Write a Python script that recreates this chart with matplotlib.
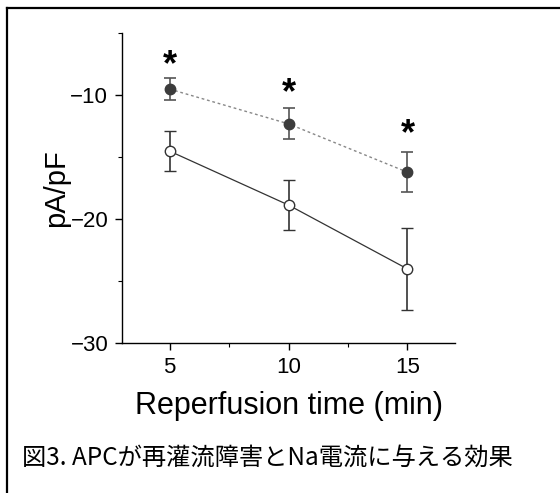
import matplotlib.pyplot as plt
from matplotlib.lines import Line2D
from matplotlib.ticker import MultipleLocator

plt.rcParams["font.family"] = ["Liberation Sans", "DejaVu Sans"]

# data
times = [5, 10, 15]
apc_mean = [-9.5, -12.3, -16.2]
apc_err = [0.9, 1.25, 1.6]
ctrl_mean = [-14.5, -18.85, -24.0]
ctrl_err = [1.6, 2.0, 3.3]
star_y = [-7.2, -9.4, -12.75]
caption = "図3. APCが再灌流障害とNa電流に与える効果"

fig = plt.figure(figsize=(5.6, 4.93), dpi=100)
ax = fig.add_axes([0.218, 0.3036, 0.5945, 0.6288])

ax.errorbar(times, ctrl_mean, yerr=ctrl_err, fmt="-o", color="#333333", lw=0.9,
            ms=7.5, mfc="white", mec="#333333", mew=1.0, ecolor="#333333",
            elinewidth=1.2, capsize=4, capthick=1.2, zorder=3)
ax.errorbar(times, apc_mean, yerr=apc_err, fmt="o", color="#3c3c3c", ms=7.5,
            mfc="#3c3c3c", mec="#3c3c3c", ecolor="#555555", elinewidth=1.2,
            capsize=4, capthick=1.2, zorder=3)
ax.plot(times, apc_mean, ls=(0, (2, 2)), color="#888888", lw=1.0, zorder=2)

# asterisk glyph sits high in its box, so nudge it down a little
for x, y in zip(times, star_y):
    ax.annotate("*", (x, y), xytext=(0, -4), textcoords="offset points",
                ha="center", va="center", fontsize=26, fontweight="bold",
                color="black")

ax.set_xlim(3, 17)
ax.set_ylim(-30, -5)
ax.set_xticks(times)
ax.set_yticks([-30, -20, -10])
ax.set_yticklabels(["\u221230", "\u221220", "\u221210"])
ax.xaxis.set_minor_locator(MultipleLocator(2.5))
ax.yaxis.set_minor_locator(MultipleLocator(5))
ax.spines["top"].set_visible(False)
ax.spines["right"].set_visible(False)
for s in ("left", "bottom"):
    ax.spines[s].set_linewidth(1.0)
ax.tick_params(which="major", direction="out", length=5, width=1.0,
               labelsize=16, pad=5)
ax.tick_params(which="minor", direction="out", length=3, width=0.8)

ax.set_ylabel("pA/pF", fontsize=21, labelpad=0)
ax.set_xlabel("Reperfusion time (min)", fontsize=22, labelpad=9)

fig.text(0.04, 0.071, caption, fontsize=17.5, va="center", ha="left",
         family=["Noto Sans CJK JP", "DejaVu Sans"])

# outer frame (only top and left edges are visible in the reference)
fig.add_artist(Line2D([0.0125, 1.0], [0.9838, 0.9838], color="black", lw=1.6,
                      transform=fig.transFigure))
fig.add_artist(Line2D([0.0125, 0.0125], [0.0, 0.9838], color="black", lw=1.6,
                      transform=fig.transFigure))

fig.savefig("out.png", dpi=100)
